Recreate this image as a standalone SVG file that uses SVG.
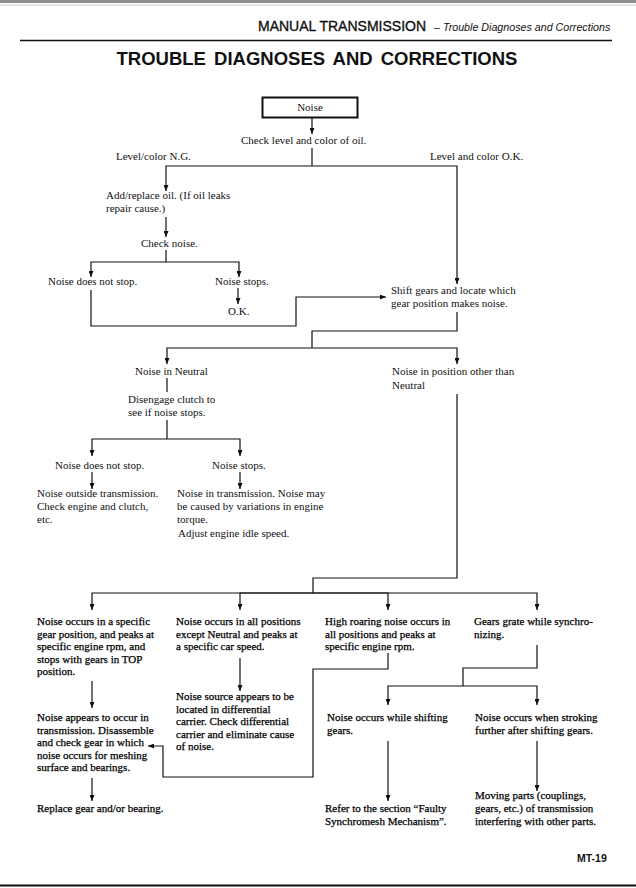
<svg xmlns="http://www.w3.org/2000/svg" width="636" height="888" viewBox="0 0 636 888">
<style>
.t{font-family:"Liberation Serif","Times New Roman",serif;font-size:11px;fill:#111}
.b{font-family:"Liberation Serif","Times New Roman",serif;font-size:11px;fill:#000;stroke:#000;stroke-width:0.25}
.c{fill:none;stroke:#111;stroke-width:1.2}
.a{marker-end:url(#ah)}
</style>
<defs>
<marker id="ah" viewBox="0 0 10 10" refX="10" refY="5" markerWidth="6" markerHeight="5" markerUnits="userSpaceOnUse" orient="auto" preserveAspectRatio="none"><path d="M0,0 L10,5 L0,10 z" fill="#111"/></marker>
</defs>
<rect width="636" height="888" fill="#fff"/>
<rect x="0" y="0" width="636" height="3" fill="#8f8f8f"/>
<line x1="0" y1="5" x2="636" y2="5" stroke="#d0d0d0" stroke-width="1"/>
<line x1="0" y1="885.5" x2="636" y2="885.5" stroke="#111" stroke-width="2"/>

<g id="header">
<text x="258" y="31" font-family="Liberation Sans, Arial, sans-serif" font-size="14" fill="#111" stroke="#111" stroke-width="0.35">MANUAL TRANSMISSION</text>
<text x="434" y="31" font-family="Liberation Sans, Arial, sans-serif" font-size="10.7" font-style="italic" fill="#111">– Trouble Diagnoses and Corrections</text>
<line x1="20" y1="40.5" x2="612" y2="40.5" stroke="#111" stroke-width="1.6"/>
<text x="317" y="65" text-anchor="middle" font-family="Liberation Sans, Arial, sans-serif" font-size="18.5" font-weight="bold" fill="#111" word-spacing="3">TROUBLE DIAGNOSES AND CORRECTIONS</text>
</g>

<g id="connectors">
<line class="c a" x1="312" y1="118" x2="312" y2="134"/>
<line class="c" x1="312" y1="148" x2="312" y2="166"/>
<path class="c a" d="M312,166 H166 V191"/>
<path class="c a" d="M312,166 H457 V284"/>
<line class="c a" x1="166" y1="217" x2="166" y2="237"/>
<line class="c" x1="166" y1="250" x2="166" y2="262"/>
<path class="c a" d="M166,262 H91 V277"/>
<path class="c a" d="M166,262 H239 V277"/>
<line class="c a" x1="238" y1="288" x2="238" y2="304"/>
<path class="c a" d="M91,290 V326 H296 V297 H386"/>
<path class="c" d="M457,312 V331 H312 V348"/>
<path class="c a" d="M312,348 H167 V364"/>
<path class="c a" d="M312,348 H457 V364"/>
<line class="c" x1="167" y1="378" x2="167" y2="392"/>
<line class="c" x1="167" y1="420" x2="167" y2="439"/>
<path class="c a" d="M167,439 H92 V456"/>
<path class="c a" d="M167,439 H240 V456"/>
<line class="c a" x1="92" y1="472" x2="92" y2="489"/>
<line class="c a" x1="240" y1="472" x2="240" y2="489"/>
<path class="c" d="M457,394 V578 H313 V593"/>
<path class="c a" d="M313,593 H92 V610"/>
<path class="c a" d="M313,593 H240 V610"/>
<path class="c a" d="M313,593 H388 V610"/>
<path class="c a" d="M313,593 H537 V610"/>
<path class="c" d="M537,645 V668 H463 V686"/>
<path class="c a" d="M463,686 H388 V705"/>
<path class="c a" d="M463,686 H537 V705"/>
<path class="c a" d="M388,653 V669 H313 V777 H163 V746 H148"/>
<line class="c a" x1="240" y1="658" x2="240" y2="691"/>
<line class="c a" x1="92" y1="681" x2="92" y2="708"/>
<line class="c a" x1="92" y1="778" x2="92" y2="801"/>
<line class="c a" x1="388" y1="741" x2="388" y2="801"/>
<line class="c a" x1="537" y1="741" x2="537" y2="791"/>
</g>

<g id="n-noise">
<rect x="262.5" y="97.5" width="95" height="20" fill="none" stroke="#111" stroke-width="2"/>
<text class="t" x="310" y="111" text-anchor="middle" font-size="10.5">Noise</text>
</g>
<g id="n-check-oil"><text class="t" x="241" y="144">Check level and color of oil.</text></g>
<g id="l-ng"><text class="t" x="116" y="160">Level/color N.G.</text></g>
<g id="l-ok"><text class="t" x="430" y="160">Level and color O.K.</text></g>
<g id="n-add-oil"><text class="t" x="106" y="199">Add/replace oil. (If oil leaks</text><text class="t" x="106" y="212">repair cause.)</text></g>
<g id="n-check-noise"><text class="t" x="141" y="247">Check noise.</text></g>
<g id="n-not-stop1"><text class="t" x="48" y="285">Noise does not stop.</text></g>
<g id="n-stops1"><text class="t" x="215" y="285">Noise stops.</text></g>
<g id="n-ok"><text class="t" x="228" y="315">O.K.</text></g>
<g id="n-shift"><text class="t" x="391" y="294">Shift gears and locate which</text><text class="t" x="391" y="307">gear position makes noise.</text></g>
<g id="n-neutral"><text class="t" x="135" y="375">Noise in Neutral</text></g>
<g id="n-other"><text class="t" x="392" y="375">Noise in position other than</text><text class="t" x="392" y="389">Neutral</text></g>
<g id="n-clutch"><text class="t" x="128" y="403">Disengage clutch to</text><text class="t" x="128" y="416">see if noise stops.</text></g>
<g id="n-not-stop2"><text class="t" x="55" y="469">Noise does not stop.</text></g>
<g id="n-stops2"><text class="t" x="212" y="469">Noise stops.</text></g>
<g id="n-outside"><text class="t" x="37" y="497">Noise outside transmission.</text><text class="t" x="37" y="510">Check engine and clutch,</text><text class="t" x="37" y="523">etc.</text></g>
<g id="n-in-trans"><text class="t" x="177" y="497">Noise in transmission. Noise may</text><text class="t" x="177" y="510">be caused by variations in engine</text><text class="t" x="177" y="523">torque.</text><text class="t" x="178" y="537">Adjust engine idle speed.</text></g>

<g id="n-specific-gear"><text class="b" x="37" y="625">Noise occurs in a specific</text><text class="b" x="37" y="637.5">gear position, and peaks at</text><text class="b" x="37" y="650">specific engine rpm, and</text><text class="b" x="37" y="662.5">stops with gears in TOP</text><text class="b" x="37" y="675">position.</text></g>
<g id="n-all-positions"><text class="b" x="176" y="625">Noise occurs in all positions</text><text class="b" x="176" y="637.5">except Neutral and peaks at</text><text class="b" x="176" y="650">a specific car speed.</text></g>
<g id="n-high-roaring"><text class="b" x="325" y="625">High roaring noise occurs in</text><text class="b" x="325" y="637.5">all positions and peaks at</text><text class="b" x="325" y="650">specific engine rpm.</text></g>
<g id="n-grate"><text class="b" x="474" y="625">Gears grate while synchro-</text><text class="b" x="474" y="637.5">nizing.</text></g>
<g id="n-differential"><text class="b" x="176" y="700">Noise source appears to be</text><text class="b" x="176" y="712.5">located in differential</text><text class="b" x="176" y="725">carrier. Check differential</text><text class="b" x="176" y="737.5">carrier and eliminate cause</text><text class="b" x="176" y="750">of noise.</text></g>
<g id="n-in-transmission"><text class="b" x="37" y="721">Noise appears to occur in</text><text class="b" x="37" y="733.5">transmission. Disassemble</text><text class="b" x="37" y="746">and check gear in which</text><text class="b" x="37" y="758.5">noise occurs for meshing</text><text class="b" x="37" y="771">surface and bearings.</text></g>
<g id="n-replace"><text class="b" x="37" y="812">Replace gear and/or bearing.</text></g>
<g id="n-while-shifting"><text class="b" x="327" y="721">Noise occurs while shifting</text><text class="b" x="327" y="734">gears.</text></g>
<g id="n-stroking"><text class="b" x="475" y="721">Noise occurs when stroking</text><text class="b" x="475" y="734">further after shifting gears.</text></g>
<g id="n-refer"><text class="b" x="325" y="812">Refer to the section “Faulty</text><text class="b" x="325" y="825">Synchromesh Mechanism”.</text></g>
<g id="n-moving"><text class="b" x="475" y="799">Moving parts (couplings,</text><text class="b" x="475" y="812">gears, etc.) of transmission</text><text class="b" x="475" y="825">interfering with other parts.</text></g>

<g id="footer"><text x="577" y="862" font-family="Liberation Sans, Arial, sans-serif" font-size="10.5" font-weight="bold" fill="#111">MT-19</text></g>
</svg>
